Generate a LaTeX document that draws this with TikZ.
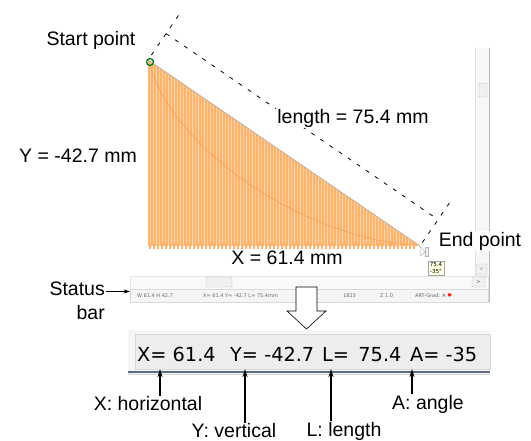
\documentclass[tikz,border=0pt]{standalone}
\usepackage{fontspec}
\setmainfont{Liberation Sans}
\newfontfamily\uifont{DejaVu Sans}
\usetikzlibrary{arrows.meta, positioning, calc}

\definecolor{stitch}{RGB}{255,178,105}
\definecolor{stitchlight}{RGB}{255,212,168}
\definecolor{stitchdark}{RGB}{242,150,70}
\definecolor{tipyellow}{RGB}{255,255,225}
\definecolor{barblue}{RGB}{95,105,130}

\begin{document}
\begin{tikzpicture}[x=1pt, y=-1pt,
  lbl/.style={font=\fontsize{19.5}{24}\selectfont, inner sep=1pt},
  dim/.style={dash pattern=on 4pt off 7pt, line width=0.8pt},
  ptr/.style={-{Stealth[length=8pt, width=5pt]}, line width=1.4pt},
  tiny/.style={font=\uifont\fontsize{5}{6}\selectfont, text=gray!80!black, inner sep=0pt, anchor=west},
  val/.style={font=\uifont\fontsize{19.3}{22}\selectfont, text=black, inner sep=0pt, anchor=base west},
  btn/.style={draw=gray!45, fill=gray!12, rounded corners=1pt},
]
\useasboundingbox (0,0) rectangle (531,441);

% window frame
\fill[gray!6] (475,48) rectangle (489,276);
\draw[gray!25] (475,48) -- (475,276);
\draw[gray!55, line width=1pt] (489,48) -- (489,302);
\draw[btn] (479,83) rectangle (487,97);
\draw[btn] (476,264) rectangle (487,275);
\node[font=\uifont\fontsize{5}{5}\selectfont, text=gray!70!black, inner sep=0] at (481.5,269.5) {$\vee$};
\draw[gray!20, fill=gray!5] (130,276) rectangle (488,289);
\draw[btn] (206,277) rectangle (232,287);
\draw[btn] (472,277) rectangle (485,287);
\node[font=\uifont\fontsize{5}{5}\selectfont, text=gray!70!black, inner sep=0] at (478.5,282) {>};

% status bar
\node[fill=gray!8, draw=gray!30, minimum width=358pt, minimum height=13pt, inner sep=0] (statusbar) at (309,295.5) {};
\node[tiny] (sbsize) at (137,295.5) {W 61.4 H 42.7};
\node[tiny] (sbcoord) at (203,295.5) {X= 61.4 Y= -42.7 L= 75.4mm};
\node[tiny] (sbcount) at (343,295.5) {1823};
\node[tiny] (sbzoom) at (380,295.5) {Z 1.0};
\node[tiny] (sbart) at (415,295.5) {ART-Grad: A {\color{red}♥}};

% stitched triangle
\coordinate (start) at (148,60);
\coordinate (end) at (420,246);
\coordinate (corner) at (148,246);
\begin{scope}
  \clip (start) -- (end) -- (corner) -- cycle;
  \fill[stitch] (146,55) rectangle (424,250);
  \foreach \i in {150,153,...,420}
    \draw[stitchlight, line width=0.7pt] (\i,55) -- (\i,250);
  \draw[stitchdark, line width=0.4pt] (150,66) .. controls (175,150) and (300,235) .. (410,245);
\end{scope}
\foreach \i in {150,154,...,416}
  \draw[stitch, line width=1.2pt] (\i,243) -- (\i,249);
\draw[gray!60, line width=0.8pt] (start) -- (end);
\draw[green!45!black, line width=1.2pt] (150,62) circle (3.5pt);
\draw[gray!60, fill=white, line width=0.5pt] (420,246) -- (420,256) -- (425,252) -- cycle;
\draw[gray!60, fill=gray!10, line width=0.5pt] (425,247) rectangle (428,256);

% dimension line
\draw[dim] ($(start)!6pt!90:(end)$) -- ($(start)!54pt!90:(end)$);
\draw[dim] ($(end)!4pt!-90:(start)$) -- ($(end)!58pt!-90:(start)$);
\draw[dim] ($(start)!32pt!90:(end)$) -- ($(end)!32pt!-90:(start)$);

% labels
\node[lbl] (startlbl) at (91,40) {Start point};
\node[lbl] (ylen) at (78,156) {Y = -42.7 mm};
\node[lbl, fill=white] (len) at (353,118) {length = 75.4 mm};
\node[lbl] (xlen) at (287,258) {X = 61.4 mm};
\node[lbl, fill=white] (endlbl) at (480,241) {End point};
\node[draw=gray!70, fill=tipyellow, font=\uifont\fontsize{5.5}{6.5}\selectfont, align=center, inner sep=2pt] (tip) at (436,268) {75.4\\-35°};

\node[lbl, align=right, anchor=east] (statuslbl) at (106,301) {Status\\bar};
\draw[-{Stealth[length=6pt, width=4pt]}, line width=1pt] ([yshift=4pt]statuslbl.east |- statusbar.west) -- ([yshift=4pt]statusbar.west);

% zoom arrow
\draw[fill=white, line width=0.6pt] (296,287) -- (317,287) -- (317,311) -- (326,311) -- (306.5,329) -- (287,311) -- (296,311) -- cycle;

% enlarged status strip
\node[fill=gray!8, minimum width=362pt, minimum height=44pt, inner sep=0] (strip) at (309,352) {};
\draw[gray!30, fill=gray!14] (135,334) rectangle (490,369);
\draw[barblue, line width=2pt] (128,372) -- (490,372);
\draw[gray!30, line width=1pt] (128,374.5) -- (490,374.5);
\node[val] (xval) at (137,362) {X= 61.4};
\node[val] (yval) at (230,362) {Y= -42.7};
\node[val] (lval) at (322,362) {L=\, 75.4};
\node[val] (aval) at (410,362) {A= -35};

\coordinate (xpt) at (160,369);
\coordinate (ypt) at (245,369);
\coordinate (lpt) at (331,369);
\coordinate (apt) at (412,369);

\node[lbl] (xlbl) at (148,404) {X: horizontal};
\node[lbl] (ylbl) at (234,431) {Y: vertical};
\node[lbl] (llbl) at (344,431) {L: length};
\node[lbl] (albl) at (428,404) {A: angle};

\draw[ptr] (xlbl.north -| xpt) -- (xpt);
\draw[ptr] (ylbl.north -| ypt) -- (ypt);
\draw[ptr] (llbl.north -| lpt) -- (lpt);
\draw[ptr] (albl.north -| apt) -- (apt);
\end{tikzpicture}
\end{document}
